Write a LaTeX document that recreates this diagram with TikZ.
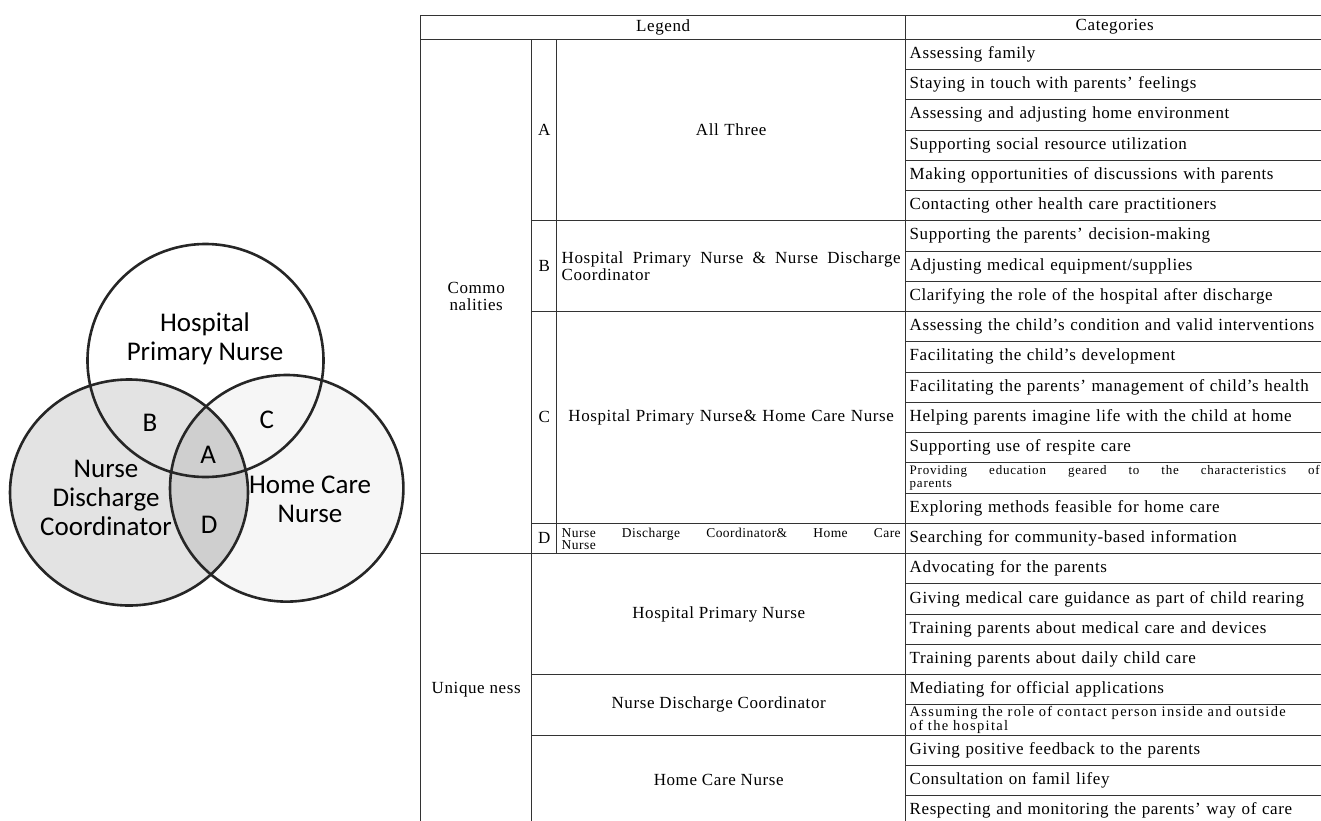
\documentclass[tikz,border=0pt]{standalone}
\usepackage{fontspec}
\setmainfont{Liberation Serif}[LetterSpace=3.5]
\newfontfamily\vennfont{Carlito}
\usetikzlibrary{positioning}

\begin{document}
\begin{tikzpicture}[x=1pt,y=-1pt,
    cell/.style={draw=black!80,line width=1pt,inner sep=0pt,outer sep=0pt,
                 font=\fontsize{17}{17}\selectfont},
    head/.style={cell,minimum height=24.3pt,anchor=north west},
    grp/.style={cell,minimum width=111pt,anchor=north west,align=center},
    tag/.style={cell,minimum width=25pt,anchor=north west},
    who/.style={cell,text width=339pt,inner xsep=5pt,anchor=north west,align=center},
    solo/.style={cell,minimum width=374pt,anchor=north west,align=center},
    cat/.style={cell,minimum height=30.25pt,text width=410pt,inner xsep=4pt,align=left},
    small/.style={align=justify,font=\fontsize{13}{13.5}\selectfont\addfontfeature{LetterSpace=6}},
    venn/.style={font=\vennfont\fontsize{27}{29}\selectfont,align=center,inner sep=0pt},
    ring/.style={draw=black!85,line width=2.6pt}]
  \useasboundingbox (0,0) rectangle (1321,820);

  % Venn diagram
  \fill[gray!22] (129,492.5) ellipse [x radius=119pt,y radius=113pt];
  \fill[gray!7] (286.7,488.3) ellipse [x radius=116.7pt,y radius=113.3pt];
  \begin{scope}
    \clip (129,492.5) ellipse [x radius=119pt,y radius=113pt];
    \fill[gray!38] (286.7,488.3) ellipse [x radius=116.7pt,y radius=113.3pt];
  \end{scope}
  \draw[ring] (205.5,360.5) ellipse [x radius=118pt,y radius=116.5pt];
  \draw[ring] (129,492.5) ellipse [x radius=119pt,y radius=113pt];
  \draw[ring] (286.7,488.3) ellipse [x radius=116.7pt,y radius=113.3pt];

  \node[venn] (hpnlbl) at (205,339) {Hospital\\Primary Nurse};
  \node[venn] (ndclbl) at (106,497.5) {Nurse\\Discharge\\Coordinator};
  \node[venn] (hcnlbl) at (310,499) {Home Care\\Nurse};
  \node[venn] (lblA) at (208.3,455) {A};
  \node[venn] (lblB) at (150,423.3) {B};
  \node[venn] (lblC) at (266.7,420) {C};
  \node[venn] (lblD) at (209.3,525) {D};

  % legend side of the table
  \node[head,minimum width=485pt] (legend) at (420.7,15) {Legend};
  \node[head,minimum width=418pt,right=0pt of legend] (cathead) {Categories};

  \node[grp,minimum height=514.25pt,below=0pt of legend.south west,anchor=north west] (common) {Commo\\nalities};
  \node[tag,minimum height=181.5pt,right=0pt of common.north east,anchor=north west] (tagA) {A};
  \node[who,minimum height=181.5pt,right=0pt of tagA.north east,anchor=north west] (whoA) {All Three};
  \node[tag,minimum height=90.75pt,below=0pt of tagA] (tagB) {B};
  \node[who,minimum height=90.75pt,below=0pt of whoA,align=justify] (whoB)
       {Hospital Primary Nurse \& Nurse Discharge\linebreak Coordinator};
  \node[tag,minimum height=211.75pt,below=0pt of tagB] (tagC) {C};
  \node[who,minimum height=211.75pt,below=0pt of whoB] (whoC) {Hospital Primary Nurse\& Home Care Nurse};
  \node[tag,minimum height=30.25pt,below=0pt of tagC] (tagD) {D};
  \node[who,minimum height=30.25pt,below=0pt of whoC,align=justify,font=\fontsize{13.5}{12}\selectfont] (whoD)
       {Nurse Discharge Coordinator\& Home Care\linebreak Nurse};

  \node[grp,minimum height=272.25pt,below=0pt of common] (unique) {Unique ness};
  \node[solo,minimum height=121pt,right=0pt of unique.north east,anchor=north west] (soloH) {Hospital Primary Nurse};
  \node[solo,minimum height=60.5pt,below=0pt of soloH] (soloN) {Nurse Discharge Coordinator};
  \node[solo,minimum height=90.75pt,below=0pt of soloN] (soloC) {Home Care Nurse};

  % categories
  \node[cat,below=0pt of cathead] (cat1) {Assessing family};
  \node[cat,below=0pt of cat1] (cat2) {Staying in touch with parents' feelings};
  \node[cat,below=0pt of cat2] (cat3) {Assessing and adjusting home environment};
  \node[cat,below=0pt of cat3] (cat4) {Supporting social resource utilization};
  \node[cat,below=0pt of cat4] (cat5) {Making opportunities of discussions with parents};
  \node[cat,below=0pt of cat5] (cat6) {Contacting other health care practitioners};
  \node[cat,below=0pt of cat6] (cat7) {Supporting the parents' decision-making};
  \node[cat,below=0pt of cat7] (cat8) {Adjusting medical equipment/supplies};
  \node[cat,below=0pt of cat8] (cat9) {Clarifying the role of the hospital after discharge};
  \node[cat,below=0pt of cat9] (cat10) {Assessing the child's condition and valid interventions};
  \node[cat,below=0pt of cat10] (cat11) {Facilitating the child's development};
  \node[cat,below=0pt of cat11] (cat12) {Facilitating the parents' management of child's health};
  \node[cat,below=0pt of cat12] (cat13) {Helping parents imagine life with the child at home};
  \node[cat,below=0pt of cat13] (cat14) {Supporting use of respite care};
  \node[cat,below=0pt of cat14,small] (cat15) {Providing education geared to the characteristics of\linebreak parents};
  \node[cat,below=0pt of cat15] (cat16) {Exploring methods feasible for home care};
  \node[cat,below=0pt of cat16] (cat17) {Searching for community-based information};
  \node[cat,below=0pt of cat17] (cat18) {Advocating for the parents};
  \node[cat,below=0pt of cat18] (cat19) {Giving medical care guidance as part of child rearing};
  \node[cat,below=0pt of cat19] (cat20) {Training parents about medical care and devices};
  \node[cat,below=0pt of cat20] (cat21) {Training parents about daily child care};
  \node[cat,below=0pt of cat21] (cat22) {Mediating for official applications};
  \node[cat,below=0pt of cat22,font=\fontsize{14.5}{12.5}\selectfont\addfontfeature{LetterSpace=9}] (cat23)
       {Assuming the role of contact person inside and outside\\of the hospital};
  \node[cat,below=0pt of cat23] (cat24) {Giving positive feedback to the parents};
  \node[cat,below=0pt of cat24] (cat25) {Consultation on famil lifey};
  \node[cat,below=0pt of cat25] (cat26) {Respecting and monitoring the parents' way of care};
\end{tikzpicture}
\end{document}
